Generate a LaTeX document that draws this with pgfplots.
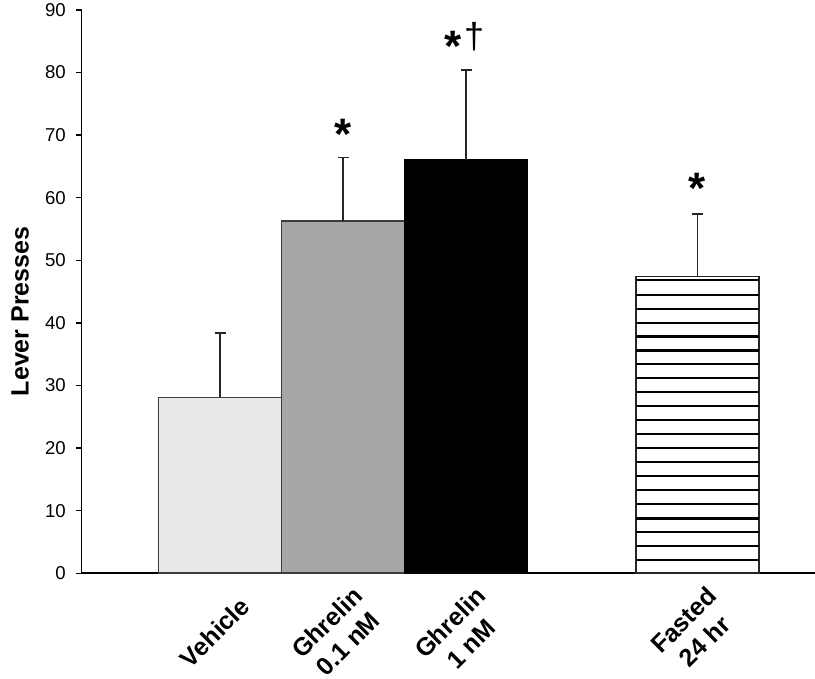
\documentclass[border=0pt]{standalone}
\usepackage{fontspec}
\setmainfont{Liberation Sans}
\usepackage{pgfplots}
\pgfplotsset{compat=1.18}

\definecolor{lightbar}{RGB}{232,232,232}
\definecolor{midbar}{RGB}{166,166,166}
\definecolor{edge}{RGB}{60,60,60}

\begin{document}
\begin{tikzpicture}
\begin{axis}[
  scale only axis,
  width=366.65pt, height=281.65pt,
  xmin=-0.126, xmax=5.836,
  ymin=0, ymax=90,
  axis x line=bottom, axis y line=left,
  axis line style={-, line width=0.8pt, black},
  ytick={0,10,...,90},
  tick align=outside,
  major tick length=2.9pt,
  tick style={line width=0.7pt, black},
  yticklabel style={font=\fontsize{9.3}{11}\selectfont, xshift=-1.5pt},
  /pgf/number format/assume math mode=true,
  xtick={1,2,3,4.88},
  xticklabels={Vehicle, Ghrelin\\0.1 nM, Ghrelin\\1 nM, Fasted\\24 hr},
  xtick style={draw=none},
  xticklabel style={xshift=15pt, yshift=-9pt, font=\fontsize{12.5}{15}\selectfont\bfseries, rotate=45, anchor=east, align=center},
  ylabel={\fontsize{12.5}{14}\selectfont\bfseries Lever Presses},
  ylabel style={at={(axis description cs:-0.0841,0.465)}, anchor=center, rotate=0},
  clip=false,
  unbounded coords=jump,
]
\addplot[ybar, bar width=61.5pt, bar shift=0pt, fill=lightbar, draw=edge, line width=0.8pt,
  error bars/.cd, y dir=plus, y explicit,
  error bar style={line width=0.7pt, black!85},
  error mark options={rotate=90, mark size=2.75pt, line width=0.7pt, black!85}]
  coordinates {(1,28.1) +- (0,10.3)};
\addplot[ybar, bar width=61.5pt, bar shift=0pt, fill=midbar, draw=edge, line width=0.8pt,
  error bars/.cd, y dir=plus, y explicit,
  error bar style={line width=0.7pt, black!85},
  error mark options={rotate=90, mark size=2.75pt, line width=0.7pt, black!85}]
  coordinates {(2,56.3) +- (0,10.1)};
\addplot[ybar, bar width=61.5pt, bar shift=0pt, fill=black, draw=black, line width=0.8pt,
  error bars/.cd, y dir=plus, y explicit,
  error bar style={line width=0.7pt, black!85},
  error mark options={rotate=90, mark size=2.75pt, line width=0.7pt, black!85}]
  coordinates {(3,66.0) +- (0,14.4)};
\addplot[ybar, bar width=61.5pt, bar shift=0pt, fill=white, draw=black!85, line width=0.8pt,
  error bars/.cd, y dir=plus, y explicit,
  error bar style={line width=0.7pt, black!85},
  error mark options={rotate=90, mark size=2.75pt, line width=0.7pt, black!85}]
  coordinates {(4.88,47.4) +- (0,10.0)};
% horizontal stripes of the Fasted bar
\addplot[black, line width=1.05pt, mark=none] coordinates {
  (4.38,46.86) (5.38,46.86) (nan,nan)
  (4.38,44.46) (5.38,44.46) (nan,nan)
  (4.38,42.23) (5.38,42.23) (nan,nan)
  (4.38,40.04) (5.38,40.04) (nan,nan)
  (4.38,37.83) (5.38,37.83) (nan,nan)
  (4.38,35.60) (5.38,35.60) (nan,nan)
  (4.38,33.39) (5.38,33.39) (nan,nan)
  (4.38,31.15) (5.38,31.15) (nan,nan)
  (4.38,28.92) (5.38,28.92) (nan,nan)
  (4.38,26.68) (5.38,26.68) (nan,nan)
  (4.38,24.44) (5.38,24.44) (nan,nan)
  (4.38,22.21) (5.38,22.21) (nan,nan)
  (4.38,19.97) (5.38,19.97) (nan,nan)
  (4.38,17.73) (5.38,17.73) (nan,nan)
  (4.38,15.50) (5.38,15.50) (nan,nan)
  (4.38,13.26) (5.38,13.26) (nan,nan)
  (4.38,11.02) (5.38,11.02) (nan,nan)
  (4.38,8.76) (5.38,8.76) (nan,nan)
  (4.38,6.55) (5.38,6.55) (nan,nan)
  (4.38,4.31) (5.38,4.31) (nan,nan)
  (4.38,2.08) (5.38,2.08)
};
\node[font=\fontsize{22}{22}\selectfont\bfseries, yshift=-3pt] at (axis cs:2,71.1) {*};
\node[font=\fontsize{22}{22}\selectfont\bfseries, yshift=-3pt] at (axis cs:2.89,85.2) {*};
\node[font=\fontsize{18}{18}\selectfont] at (axis cs:3.064,85.7) {†};
\node[font=\fontsize{22}{22}\selectfont\bfseries, yshift=-3pt] at (axis cs:4.88,62.4) {*};
\end{axis}
\pgfresetboundingbox
\path ([xshift=-40.85pt,yshift=-52.85pt]current axis.south west) rectangle ([yshift=5pt]current axis.north east);
\end{tikzpicture}
\end{document}
